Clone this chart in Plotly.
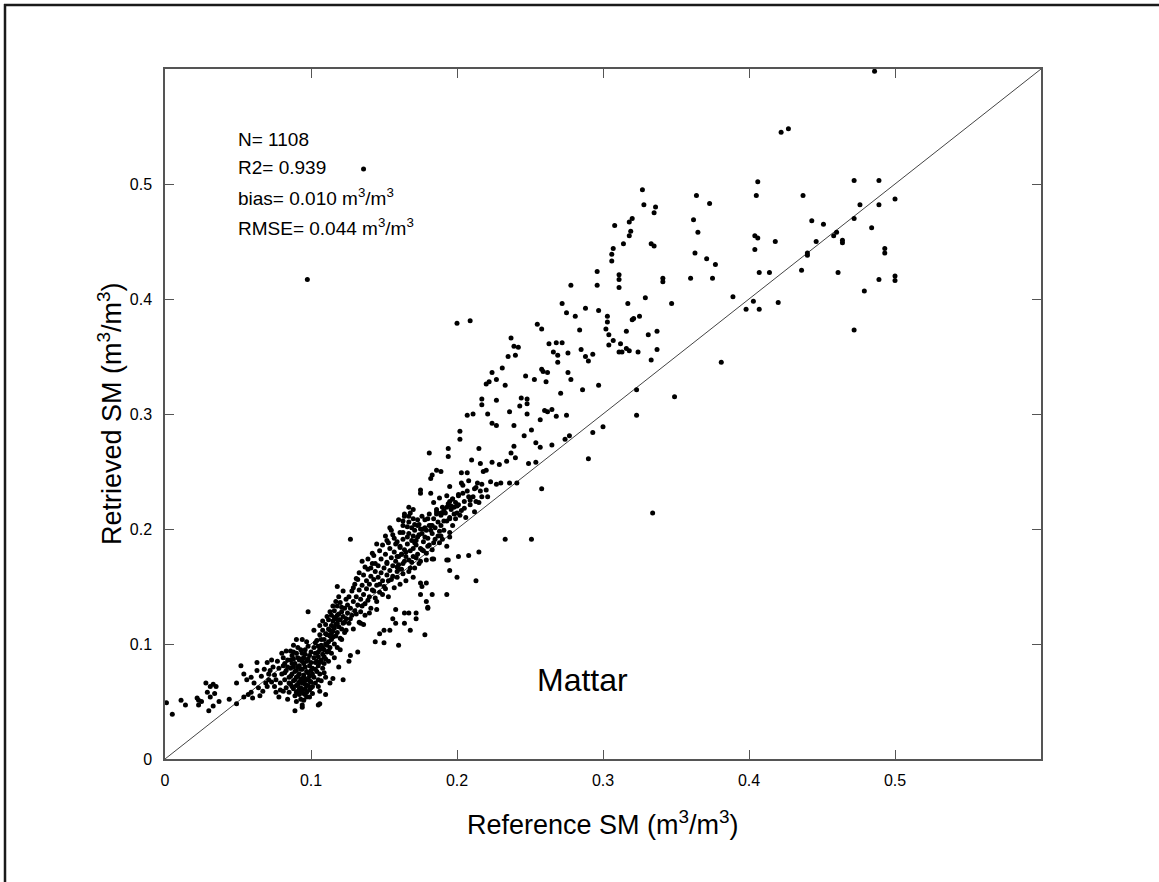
import plotly.graph_objects as go

# ---- data: (reference SM, retrieved SM) ----
low_tail = [
    (0.001, 0.049), (0.005, 0.039), (0.011, 0.051), (0.014, 0.047), (0.022, 0.053), (0.023, 0.051),
    (0.023, 0.047), (0.025, 0.050), (0.028, 0.066), (0.031, 0.063), (0.033, 0.065), (0.035, 0.063),
    (0.029, 0.058), (0.031, 0.054), (0.034, 0.057), (0.030, 0.042), (0.033, 0.046), (0.037, 0.050),
    (0.044, 0.052), (0.049, 0.048), (0.049, 0.066), (0.052, 0.081), (0.054, 0.074), (0.056, 0.069),
    (0.059, 0.071), (0.054, 0.054), (0.057, 0.056), (0.059, 0.058), (0.060, 0.053), (0.063, 0.077),
    (0.063, 0.084), (0.066, 0.072), (0.069, 0.066), (0.071, 0.069), (0.067, 0.059), (0.065, 0.055),
    (0.070, 0.084), (0.073, 0.086), (0.072, 0.077), (0.075, 0.073), (0.078, 0.079), (0.078, 0.054),
    (0.075, 0.063), (0.073, 0.067), (0.080, 0.092), (0.082, 0.083), (0.086, 0.086), (0.088, 0.093),
    (0.090, 0.104), (0.094, 0.104), (0.096, 0.095), (0.098, 0.128), (0.089, 0.042), (0.094, 0.047),
    (0.094, 0.045), (0.105, 0.047), (0.106, 0.048), (0.097, 0.054),
    (0.061, 0.066), (0.064, 0.062), (0.068, 0.078), (0.070, 0.063), (0.074, 0.080), (0.076, 0.069),
    (0.077, 0.085), (0.079, 0.060), (0.081, 0.088), (0.083, 0.094), (0.076, 0.058), (0.071, 0.074),
]

core = [
    (0.079, 0.066), (0.080, 0.074), (0.081, 0.081), (0.082, 0.069), (0.083, 0.062), (0.083, 0.077),
    (0.084, 0.086), (0.085, 0.071), (0.085, 0.058), (0.086, 0.065), (0.086, 0.079), (0.087, 0.090),
    (0.087, 0.074), (0.088, 0.061), (0.088, 0.068), (0.089, 0.083), (0.089, 0.055), (0.090, 0.077),
    (0.090, 0.071), (0.090, 0.064), (0.091, 0.088), (0.091, 0.059), (0.092, 0.081), (0.092, 0.067),
    (0.092, 0.074), (0.093, 0.052), (0.093, 0.095), (0.093, 0.062), (0.094, 0.070), (0.094, 0.078),
    (0.094, 0.085), (0.095, 0.057), (0.095, 0.066), (0.095, 0.073), (0.096, 0.091), (0.096, 0.061),
    (0.096, 0.080), (0.097, 0.069), (0.097, 0.076), (0.097, 0.058), (0.098, 0.064), (0.098, 0.087),
    (0.098, 0.098), (0.099, 0.072), (0.099, 0.081), (0.099, 0.060), (0.100, 0.067), (0.100, 0.093),
    (0.100, 0.077), (0.100, 0.084), (0.091, 0.072), (0.089, 0.076), (0.093, 0.069), (0.095, 0.083),
    (0.097, 0.064), (0.088, 0.080), (0.094, 0.060), (0.096, 0.070), (0.092, 0.086), (0.090, 0.058),
    (0.085, 0.066), (0.087, 0.063), (0.091, 0.065), (0.093, 0.078), (0.095, 0.088), (0.099, 0.068),
    (0.098, 0.075), (0.096, 0.056), (0.094, 0.066), (0.092, 0.061),
    (0.101, 0.063), (0.101, 0.079), (0.102, 0.088), (0.102, 0.071), (0.102, 0.097), (0.103, 0.084),
    (0.103, 0.066), (0.104, 0.092), (0.104, 0.076), (0.104, 0.103), (0.105, 0.081), (0.105, 0.069),
    (0.105, 0.089), (0.106, 0.095), (0.106, 0.108), (0.106, 0.074), (0.107, 0.086), (0.107, 0.099),
    (0.108, 0.091), (0.108, 0.112), (0.108, 0.079), (0.109, 0.104), (0.109, 0.095), (0.110, 0.087),
    (0.110, 0.117), (0.110, 0.100), (0.111, 0.108), (0.111, 0.093), (0.112, 0.113), (0.112, 0.102),
    (0.112, 0.121), (0.113, 0.097), (0.113, 0.107), (0.114, 0.116), (0.114, 0.125), (0.114, 0.104),
    (0.115, 0.111), (0.115, 0.120), (0.116, 0.100), (0.116, 0.129), (0.116, 0.114), (0.117, 0.107),
    (0.117, 0.122), (0.118, 0.118), (0.118, 0.133), (0.118, 0.110), (0.119, 0.126), (0.119, 0.115),
    (0.120, 0.121), (0.120, 0.105), (0.120, 0.136), (0.121, 0.128), (0.121, 0.113), (0.122, 0.124),
    (0.122, 0.118), (0.123, 0.131), (0.123, 0.110), (0.124, 0.139), (0.124, 0.122), (0.125, 0.127),
    (0.103, 0.092), (0.106, 0.084), (0.109, 0.089), (0.111, 0.099), (0.113, 0.112), (0.115, 0.106),
    (0.117, 0.117), (0.119, 0.121), (0.107, 0.104), (0.105, 0.098), (0.104, 0.085), (0.108, 0.097),
    (0.110, 0.109), (0.112, 0.094), (0.114, 0.109), (0.116, 0.123), (0.118, 0.125), (0.121, 0.132),
    (0.123, 0.119), (0.125, 0.134),
    (0.081, 0.059), (0.084, 0.052), (0.086, 0.094), (0.088, 0.099), (0.090, 0.050), (0.091, 0.097),
    (0.093, 0.058), (0.095, 0.051), (0.097, 0.102), (0.099, 0.054), (0.101, 0.057), (0.102, 0.112),
    (0.103, 0.101), (0.105, 0.063), (0.106, 0.116), (0.107, 0.068), (0.108, 0.120), (0.109, 0.083),
    (0.110, 0.071), (0.111, 0.124), (0.112, 0.085), (0.113, 0.128), (0.114, 0.092), (0.115, 0.133),
    (0.116, 0.088), (0.117, 0.137), (0.118, 0.097), (0.119, 0.141), (0.120, 0.095), (0.122, 0.146),
    (0.087, 0.083), (0.089, 0.069), (0.091, 0.080), (0.093, 0.087), (0.095, 0.070), (0.097, 0.085),
    (0.099, 0.090), (0.101, 0.074), (0.103, 0.078), (0.105, 0.093), (0.082, 0.075), (0.084, 0.080),
    (0.086, 0.072), (0.088, 0.087), (0.090, 0.092), (0.092, 0.056), (0.094, 0.092), (0.096, 0.065),
    (0.098, 0.069), (0.100, 0.062),
]

band = [
    (0.126, 0.141), (0.126, 0.118), (0.127, 0.131), (0.128, 0.146), (0.128, 0.125), (0.129, 0.137),
    (0.130, 0.152), (0.130, 0.129), (0.131, 0.141), (0.132, 0.134), (0.132, 0.156), (0.133, 0.147),
    (0.134, 0.139), (0.134, 0.128), (0.135, 0.151), (0.136, 0.160), (0.136, 0.143), (0.137, 0.135),
    (0.138, 0.155), (0.138, 0.148), (0.139, 0.165), (0.140, 0.141), (0.140, 0.152), (0.141, 0.159),
    (0.142, 0.147), (0.142, 0.170), (0.143, 0.156), (0.144, 0.163), (0.144, 0.140), (0.145, 0.151),
    (0.146, 0.158), (0.146, 0.168), (0.147, 0.145), (0.148, 0.162), (0.148, 0.174), (0.149, 0.155),
    (0.150, 0.166), (0.150, 0.150), (0.151, 0.178), (0.152, 0.160), (0.152, 0.171), (0.153, 0.155),
    (0.154, 0.164), (0.154, 0.183), (0.155, 0.175), (0.156, 0.159), (0.156, 0.168), (0.157, 0.180),
    (0.158, 0.172), (0.158, 0.187), (0.159, 0.163), (0.160, 0.176), (0.160, 0.169), (0.161, 0.184),
    (0.162, 0.178), (0.162, 0.165), (0.163, 0.191), (0.164, 0.172), (0.164, 0.182), (0.165, 0.176),
    (0.166, 0.187), (0.167, 0.196), (0.168, 0.181), (0.169, 0.190), (0.170, 0.176), (0.171, 0.199),
    (0.172, 0.186), (0.173, 0.193), (0.174, 0.204), (0.175, 0.183), (0.176, 0.196), (0.177, 0.189),
    (0.178, 0.208), (0.179, 0.199), (0.180, 0.192), (0.181, 0.213), (0.182, 0.203), (0.183, 0.196),
    (0.184, 0.209), (0.185, 0.201), (0.186, 0.215), (0.187, 0.206), (0.188, 0.198), (0.189, 0.212),
    (0.190, 0.219), (0.191, 0.207), (0.192, 0.214), (0.194, 0.222), (0.195, 0.210), (0.196, 0.217),
    (0.197, 0.226), (0.198, 0.213), (0.200, 0.220), (0.201, 0.229), (0.203, 0.216), (0.205, 0.224),
    (0.207, 0.233), (0.209, 0.221), (0.211, 0.228), (0.213, 0.236),
    (0.145, 0.187), (0.152, 0.190), (0.156, 0.195), (0.159, 0.189), (0.161, 0.185), (0.154, 0.201),
    (0.160, 0.208), (0.164, 0.211), (0.167, 0.211), (0.167, 0.219), (0.142, 0.179), (0.135, 0.172),
    (0.144, 0.170), (0.152, 0.170), (0.159, 0.167), (0.188, 0.188), (0.193, 0.185), (0.195, 0.193),
    (0.166, 0.202), (0.170, 0.209), (0.173, 0.203), (0.177, 0.200), (0.180, 0.209), (0.183, 0.203),
    (0.186, 0.213), (0.190, 0.214), (0.195, 0.209), (0.200, 0.214), (0.165, 0.180), (0.170, 0.183),
    (0.172, 0.175), (0.174, 0.170), (0.176, 0.182), (0.180, 0.185), (0.184, 0.188), (0.159, 0.176),
    (0.162, 0.178), (0.163, 0.170), (0.167, 0.173), (0.168, 0.166), (0.160, 0.165),
    (0.121, 0.104), (0.124, 0.112), (0.127, 0.122), (0.129, 0.113), (0.131, 0.126), (0.133, 0.119),
    (0.135, 0.133), (0.137, 0.125), (0.139, 0.138), (0.141, 0.131), (0.143, 0.146), (0.145, 0.137),
    (0.147, 0.152), (0.149, 0.143), (0.151, 0.148), (0.153, 0.141), (0.155, 0.156), (0.157, 0.149),
    (0.159, 0.158), (0.161, 0.152), (0.163, 0.161), (0.165, 0.155), (0.167, 0.163), (0.169, 0.171),
    (0.171, 0.166), (0.173, 0.178), (0.175, 0.172), (0.177, 0.181), (0.179, 0.179), (0.181, 0.186),
    (0.183, 0.182), (0.185, 0.191), (0.187, 0.194), (0.189, 0.203), (0.191, 0.199), (0.193, 0.207),
    (0.197, 0.203), (0.199, 0.209), (0.202, 0.212), (0.206, 0.210), (0.129, 0.149), (0.131, 0.157),
    (0.133, 0.162), (0.137, 0.167), (0.139, 0.174), (0.141, 0.166), (0.143, 0.177), (0.147, 0.181),
    (0.149, 0.186), (0.151, 0.194), (0.153, 0.188), (0.155, 0.199), (0.157, 0.192), (0.161, 0.197),
    (0.163, 0.207), (0.166, 0.193), (0.169, 0.201), (0.171, 0.188), (0.174, 0.195), (0.178, 0.193),
]

below_line = [
    (0.175, 0.153), (0.179, 0.153), (0.180, 0.132), (0.178, 0.108), (0.172, 0.122), (0.167, 0.127),
    (0.168, 0.112), (0.164, 0.118), (0.160, 0.099), (0.156, 0.122), (0.158, 0.118), (0.154, 0.112),
    (0.150, 0.112), (0.147, 0.109), (0.144, 0.102), (0.145, 0.130), (0.140, 0.127), (0.136, 0.117),
    (0.134, 0.118), (0.132, 0.093), (0.127, 0.090), (0.126, 0.085), (0.122, 0.069), (0.119, 0.080),
    (0.115, 0.070), (0.113, 0.066), (0.109, 0.075), (0.106, 0.059), (0.110, 0.056), (0.118, 0.150),
    (0.127, 0.191), (0.183, 0.174), (0.193, 0.173), (0.195, 0.164), (0.200, 0.158), (0.208, 0.177),
    (0.215, 0.180), (0.213, 0.155), (0.193, 0.143), (0.183, 0.143), (0.179, 0.137), (0.180, 0.131),
    (0.172, 0.127), (0.164, 0.127), (0.158, 0.130), (0.170, 0.158), (0.179, 0.173), (0.184, 0.174),
    (0.194, 0.173), (0.201, 0.176), (0.176, 0.150), (0.175, 0.143), (0.150, 0.101),
]

mid = [
    (0.181, 0.266), (0.194, 0.270), (0.194, 0.263), (0.189, 0.250), (0.186, 0.251), (0.182, 0.244),
    (0.183, 0.247), (0.195, 0.237), (0.175, 0.234), (0.175, 0.231), (0.182, 0.231), (0.203, 0.249),
    (0.207, 0.249), (0.203, 0.240), (0.204, 0.238), (0.208, 0.242), (0.212, 0.235), (0.214, 0.240),
    (0.217, 0.239), (0.216, 0.233), (0.220, 0.234), (0.208, 0.228), (0.209, 0.225), (0.213, 0.224),
    (0.215, 0.223), (0.217, 0.228), (0.221, 0.228), (0.184, 0.223), (0.188, 0.227), (0.193, 0.229),
    (0.195, 0.224), (0.197, 0.226), (0.199, 0.223), (0.201, 0.230), (0.204, 0.231), (0.186, 0.217),
    (0.189, 0.214), (0.191, 0.216), (0.193, 0.219), (0.196, 0.220), (0.198, 0.219), (0.201, 0.221),
    (0.205, 0.218), (0.212, 0.215), (0.164, 0.213), (0.168, 0.214), (0.170, 0.217), (0.173, 0.208),
    (0.176, 0.211), (0.163, 0.203), (0.167, 0.206), (0.171, 0.204), (0.175, 0.200), (0.178, 0.201),
    (0.181, 0.203), (0.163, 0.197), (0.170, 0.194), (0.172, 0.190), (0.182, 0.199), (0.189, 0.194),
    (0.190, 0.191), (0.195, 0.197), (0.233, 0.191), (0.251, 0.191), (0.334, 0.214), (0.200, 0.379),
    (0.209, 0.381), (0.202, 0.285), (0.202, 0.278), (0.207, 0.299), (0.211, 0.300), (0.215, 0.270),
    (0.210, 0.260), (0.216, 0.257), (0.218, 0.250), (0.220, 0.251), (0.224, 0.258), (0.229, 0.256),
    (0.230, 0.240), (0.227, 0.239), (0.223, 0.241), (0.236, 0.240), (0.241, 0.240), (0.258, 0.235),
    (0.239, 0.272), (0.240, 0.262), (0.234, 0.259), (0.237, 0.266), (0.254, 0.258), (0.249, 0.257),
    (0.254, 0.275), (0.257, 0.271), (0.265, 0.273), (0.274, 0.278), (0.277, 0.281), (0.246, 0.281),
    (0.251, 0.286), (0.224, 0.292), (0.227, 0.290), (0.217, 0.313), (0.217, 0.308), (0.227, 0.312),
    (0.221, 0.300), (0.244, 0.314), (0.248, 0.313), (0.248, 0.309), (0.248, 0.300), (0.236, 0.302),
    (0.239, 0.290), (0.243, 0.307), (0.260, 0.303), (0.265, 0.304), (0.268, 0.298), (0.275, 0.299),
    (0.257, 0.295), (0.262, 0.302), (0.231, 0.340), (0.224, 0.336), (0.227, 0.330), (0.233, 0.325),
    (0.220, 0.326), (0.222, 0.328), (0.237, 0.366), (0.239, 0.359), (0.242, 0.358), (0.240, 0.351),
    (0.235, 0.350), (0.247, 0.333), (0.253, 0.330), (0.261, 0.328), (0.262, 0.336), (0.258, 0.339),
    (0.259, 0.337), (0.263, 0.361), (0.258, 0.374), (0.255, 0.378), (0.268, 0.362), (0.266, 0.354),
    (0.269, 0.351), (0.269, 0.345), (0.276, 0.353), (0.272, 0.362), (0.276, 0.336), (0.278, 0.330),
    (0.271, 0.318), (0.272, 0.396), (0.275, 0.388), (0.281, 0.385), (0.288, 0.392), (0.284, 0.373),
    (0.285, 0.356), (0.288, 0.350), (0.290, 0.346), (0.293, 0.352), (0.286, 0.321), (0.297, 0.325),
    (0.278, 0.412), (0.296, 0.424), (0.296, 0.412), (0.297, 0.390), (0.290, 0.261), (0.293, 0.284),
    (0.300, 0.289), (0.323, 0.299), (0.323, 0.321), (0.349, 0.315), (0.381, 0.345),
]

upper = [
    (0.303, 0.385), (0.303, 0.380), (0.302, 0.374), (0.304, 0.369), (0.304, 0.360), (0.307, 0.364),
    (0.312, 0.361), (0.311, 0.354), (0.313, 0.354), (0.316, 0.357), (0.318, 0.355), (0.316, 0.372),
    (0.324, 0.354), (0.331, 0.369), (0.337, 0.372), (0.333, 0.347), (0.337, 0.356), (0.329, 0.401),
    (0.317, 0.396), (0.325, 0.385), (0.320, 0.382), (0.321, 0.383), (0.347, 0.396), (0.327, 0.495),
    (0.328, 0.482), (0.335, 0.475), (0.336, 0.480), (0.308, 0.464), (0.318, 0.467), (0.320, 0.470),
    (0.319, 0.459), (0.318, 0.455), (0.314, 0.448), (0.307, 0.444), (0.306, 0.439), (0.306, 0.433),
    (0.311, 0.421), (0.311, 0.417), (0.311, 0.410), (0.333, 0.448), (0.335, 0.446), (0.341, 0.418),
    (0.341, 0.415), (0.364, 0.490), (0.373, 0.483), (0.362, 0.469), (0.365, 0.458), (0.363, 0.440),
    (0.371, 0.435), (0.377, 0.430), (0.360, 0.418), (0.375, 0.418), (0.406, 0.502), (0.405, 0.490),
    (0.404, 0.455), (0.406, 0.453), (0.404, 0.443), (0.418, 0.450), (0.407, 0.423), (0.414, 0.423),
    (0.389, 0.402), (0.403, 0.398), (0.398, 0.391), (0.407, 0.391), (0.420, 0.397), (0.486, 0.598),
    (0.422, 0.545), (0.427, 0.548), (0.437, 0.490), (0.472, 0.503), (0.489, 0.503), (0.500, 0.487),
    (0.476, 0.482), (0.489, 0.482), (0.443, 0.468), (0.451, 0.465), (0.472, 0.470), (0.484, 0.462),
    (0.460, 0.458), (0.458, 0.455), (0.446, 0.450), (0.464, 0.451), (0.464, 0.449), (0.440, 0.440),
    (0.440, 0.438), (0.493, 0.444), (0.493, 0.440), (0.436, 0.425), (0.461, 0.423), (0.489, 0.417),
    (0.500, 0.420), (0.500, 0.416), (0.479, 0.407), (0.472, 0.373), (0.136, 0.513), (0.0975, 0.417),
]

tick_vals = [0, 0.1, 0.2, 0.3, 0.4, 0.5]
tick_text = ["0", "0.1", "0.2", "0.3", "0.4", "0.5"]
axis_range = [0, 0.6]
stats_lines = [
    "N= 1108",
    "R2= 0.939",
    "bias= 0.010 m<sup>3</sup>/m<sup>3</sup>",
    "RMSE= 0.044 m<sup>3</sup>/m<sup>3</sup>",
]
site_name = "Mattar"

# ---- figure ----
points = low_tail + core + band + below_line + mid + upper
ref_sm = [p[0] for p in points]
ret_sm = [p[1] for p in points]

FONT = "Liberation Sans, Arial, Helvetica, sans-serif"
W, H = 1159, 882
L, R, T, B = 165, 118, 69, 123
pw, ph = W - L - R, H - T - B


def px_to_paper_x(px):
    return (px - L) / pw


def py_to_paper_y(py):
    return (H - B - py) / ph


fig = go.Figure()
fig.add_trace(go.Scatter(x=axis_range, y=axis_range, mode="lines",
                         line=dict(color="#444444", width=1), hoverinfo="skip"))
fig.add_trace(go.Scatter(x=ref_sm, y=ret_sm, mode="markers",
                         marker=dict(color="black", size=5, line=dict(width=0))))

axis_common = dict(
    range=axis_range, tickvals=tick_vals, ticktext=tick_text,
    ticks="inside", ticklen=9, tickwidth=1, tickcolor="#555555",
    showline=True, linecolor="#555555", linewidth=1.5, mirror="ticks",
    showgrid=False, zeroline=False,
    tickfont=dict(family=FONT, size=16, color="black"),
)

fig.update_layout(
    width=W, height=H,
    margin=dict(l=L, r=R, t=T, b=B, pad=0),
    paper_bgcolor="white", plot_bgcolor="white",
    showlegend=False,
    font=dict(family=FONT, color="black"),
    xaxis=dict(**axis_common, ticklabelstandoff=6),
    yaxis=dict(**axis_common, ticklabelstandoff=8),
)

annotations = [
    dict(text="Reference SM (m<sup>3</sup>/m<sup>3</sup>)", xref="paper", yref="paper",
         x=0.5, y=py_to_paper_y(823), xanchor="center", yanchor="middle",
         showarrow=False, font=dict(family=FONT, size=27, color="black")),
    dict(text="Retrieved SM (m<sup>3</sup>/m<sup>3</sup>)", xref="paper", yref="paper",
         x=px_to_paper_x(110), y=0.5, xanchor="center", yanchor="middle", textangle=-90,
         showarrow=False, font=dict(family=FONT, size=27, color="black")),
    dict(text=site_name, xref="paper", yref="paper",
         x=px_to_paper_x(582), y=py_to_paper_y(680), xanchor="center", yanchor="middle",
         showarrow=False, font=dict(family=FONT, size=32, color="black")),
]
baselines = [152, 180, 211, 241]
for txt, by in zip(stats_lines, baselines):
    annotations.append(dict(text=txt, xref="paper", yref="paper",
                            x=px_to_paper_x(236), y=py_to_paper_y(by),
                            xanchor="left", yanchor="bottom", showarrow=False,
                            font=dict(family=FONT, size=19, color="black")))
fig.update_layout(annotations=annotations)

# outer frame (top and left edges of the figure)
fig.add_shape(type="line", xref="paper", yref="paper",
              x0=px_to_paper_x(4), x1=px_to_paper_x(1159), y0=py_to_paper_y(5), y1=py_to_paper_y(5),
              line=dict(color="#1a1a1a", width=2.5))
fig.add_shape(type="line", xref="paper", yref="paper",
              x0=px_to_paper_x(5), x1=px_to_paper_x(5), y0=py_to_paper_y(4), y1=py_to_paper_y(882),
              line=dict(color="#1a1a1a", width=2.5))

fig.write_html("out.html")
